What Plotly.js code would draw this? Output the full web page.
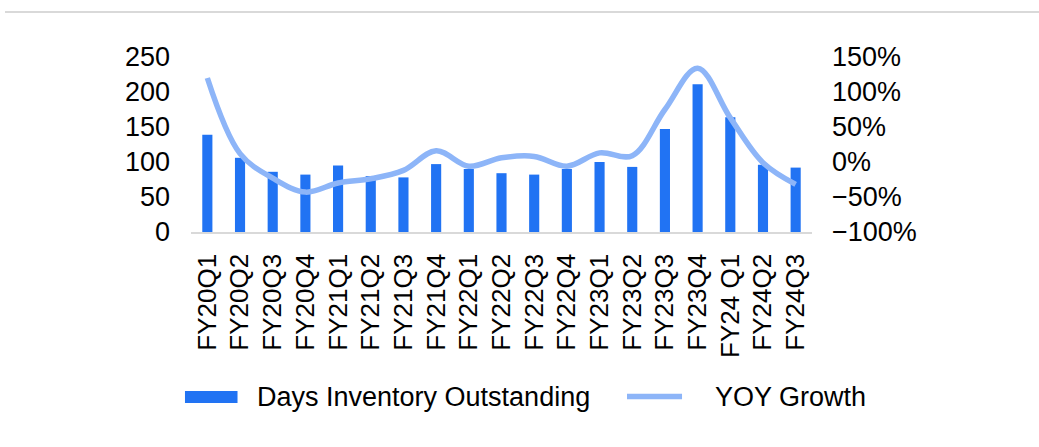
<!DOCTYPE html>
<html>
<head>
<meta charset="utf-8">
<script src="https://cdn.plot.ly/plotly-3.0.1.min.js"></script>
<style>html,body{margin:0;padding:0;background:#fff;}#chart{width:1039px;height:447px;}</style>
</head>
<body>
<div id="chart"></div>
<script>
const quarters = ["FY20Q1","FY20Q2","FY20Q3","FY20Q4","FY21Q1","FY21Q2","FY21Q3","FY21Q4","FY22Q1","FY22Q2","FY22Q3","FY22Q4","FY23Q1","FY23Q2","FY23Q3","FY23Q4","FY24 Q1","FY24Q2","FY24Q3"];
const daysInventory = [139, 106, 86, 82, 95, 80, 78, 97, 90, 84, 82, 90, 100, 93, 147, 211, 164, 96, 92];
const yoyGrowth = [120, 12, -23, -43, -30, -24, -12, 16, -6, 6, 8, -6, 13, 9, 75, 134, 63, -1, -32];
const seriesNames = ["Days Inventory Outstanding", "YOY Growth"];
const barColor = '#2173f3';
const lineColor = '#8db5f8';

const fam = '"Liberation Sans", Arial, sans-serif';
const font = {family: fam, size: 27, color: '#000'};
const xfont = {family: fam, size: 26, color: '#000'};

const traces = [
  {
    type: 'bar', name: seriesNames[0],
    x: quarters, y: daysInventory, width: 0.31,
    marker: {color: barColor}, yaxis: 'y'
  },
  {
    type: 'scatter', mode: 'lines', name: seriesNames[1],
    x: quarters, y: yoyGrowth, yaxis: 'y2',
    line: {color: lineColor, width: 5.5, shape: 'spline', smoothing: 1}
  }
];

const legendY = -0.94;
const layout = {
  width: 1039, height: 447,
  margin: {l: 191, r: 227, t: 57, b: 215},
  paper_bgcolor: '#fff', plot_bgcolor: '#fff',
  font: font,
  showlegend: false,
  xaxis: {type: 'category', showline: true, linecolor: '#d9d9d9', linewidth: 1.5,
          ticks: '', tickangle: -90, ticklabelstandoff: 10, showgrid: false, zeroline: false,
          tickfont: xfont},
  yaxis: {range: [0, 250], dtick: 50, showgrid: false, zeroline: false, showline: false,
          ticks: '', ticklabelstandoff: 20, tickfont: font},
  yaxis2: {range: [-100, 150], dtick: 50, overlaying: 'y', side: 'right', showgrid: false,
           zeroline: false, showline: false, ticks: '', ticksuffix: '%', ticklabelstandoff: 19,
           tickfont: font},
  shapes: [
    {type: 'line', xref: 'paper', yref: 'paper', x0: -0.2995, x1: 1.37, y0: 1.257, y1: 1.257,
     line: {color: '#d9d9d9', width: 2}},
    {type: 'rect', xref: 'paper', yref: 'paper', x0: -0.0097, x1: 0.0749, y0: -0.9086, y1: -0.9771,
     fillcolor: barColor, line: {width: 0}},
    {type: 'line', xref: 'paper', yref: 'paper', x0: 0.7021, x1: 0.7907, y0: legendY, y1: legendY,
     line: {color: lineColor, width: 5.5}}
  ],
  annotations: [
    {xref: 'paper', yref: 'paper', x: 0.1055, y: legendY, xanchor: 'left', yanchor: 'middle',
     text: seriesNames[0], showarrow: false, font: font, xshift: -2},
    {xref: 'paper', yref: 'paper', x: 0.8438, y: legendY, xanchor: 'left', yanchor: 'middle',
     text: seriesNames[1], showarrow: false, font: font, xshift: -2}
  ]
};

Plotly.newPlot('chart', traces, layout, {displayModeBar: false, staticPlot: true});
</script>
</body>
</html>
